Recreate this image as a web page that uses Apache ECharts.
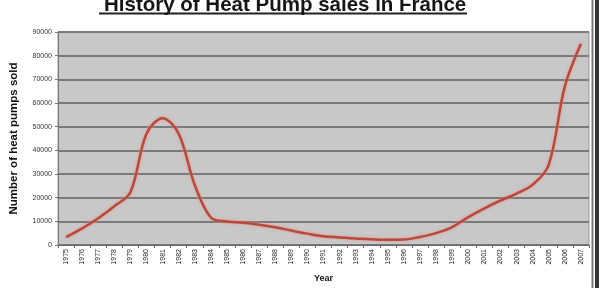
<!DOCTYPE html>
<html>
<head>
<meta charset="utf-8">
<script src="https://cdn.jsdelivr.net/npm/echarts@6/dist/echarts.min.js"></script>
<style>
html,body{margin:0;padding:0;background:#fff;}
#chart{width:603px;height:288px;}
</style>
</head>
<body>
<div id="chart"></div>
<script>
const titleText = "History of Heat Pump sales in France";
const yAxisTitle = "Number of heat pumps sold";
const xAxisTitle = "Year";
const years = ["1975","1976","1977","1978","1979","1980","1981","1982","1983","1984","1985","1986","1987","1988","1989","1990","1991","1992","1993","1994","1995","1996","1997","1998","1999","2000","2001","2002","2003","2004","2005","2006","2007"];
const sales = [3300,7000,11300,16400,22300,47000,53600,47000,25300,11600,9900,9400,8600,7500,6100,4800,3700,3200,2700,2400,2200,2300,3400,5000,7600,11800,15500,18800,21700,25500,34000,67000,85000];
const yTicks = [0,10000,20000,30000,40000,50000,60000,70000,80000,90000];

const chart = echarts.init(document.getElementById('chart'), null, {renderer:'canvas'});
chart.setOption({
  backgroundColor:'#ffffff',
  animation:false,
  title:{
    text:titleText, left:99, top:-10,
    textStyle:{fontFamily:'Liberation Sans, Arial', fontWeight:'bold', fontSize:20.5, color:'#151515'}
  },
  graphic:[
    {type:'line', shape:{x1:99,y1:13.5,x2:467,y2:13.5}, style:{stroke:'#222',lineWidth:2}},
    {type:'line', shape:{x1:592.5,y1:0,x2:592.5,y2:288}, style:{stroke:'#777',lineWidth:2}},
    {type:'line', shape:{x1:597,y1:0,x2:597,y2:288}, style:{stroke:'#333',lineWidth:4}}
  ],
  grid:{left:56,right:14,top:32,bottom:36,show:true,backgroundColor:'#c8c8c8',borderColor:'#9a9a9a',borderWidth:1},
  xAxis:{
    type:'category', data:years, boundaryGap:true,
    name:xAxisTitle, nameLocation:'middle', nameGap:29,
    nameTextStyle:{fontFamily:'Liberation Sans, Arial', fontWeight:'bold', fontSize:9, color:'#111'},
    axisLine:{lineStyle:{color:'#666',width:1}},
    axisTick:{show:true, length:3, lineStyle:{color:'#666'}},
    axisLabel:{rotate:90, fontSize:7, color:'#222', fontFamily:'Liberation Sans, Arial', margin:4, interval:0}
  },
  yAxis:{
    type:'value', min:0, max:90000, interval:10000,
    name:yAxisTitle, nameLocation:'middle', nameGap:38,
    nameTextStyle:{fontFamily:'Liberation Sans, Arial', fontWeight:'bold', fontSize:11.5, color:'#111'},
    axisLine:{show:true, lineStyle:{color:'#777',width:1}},
    axisTick:{show:true, length:3, lineStyle:{color:'#777'}},
    axisLabel:{fontSize:7, color:'#333', fontFamily:'Liberation Sans, Arial', margin:6,
      formatter:function(v){return yTicks.indexOf(v)>=0 ? String(v) : '';}},
    splitLine:{show:true, lineStyle:{color:'#7a7a7a', width:2}}
  },
  series:[{
    type:'line', data:sales, smooth:0.35, symbol:'none',
    lineStyle:{color:'#b64a3c', width:2.5, shadowColor:'rgba(240,140,130,0.9)', shadowBlur:3}
  }]
});
</script>
</body>
</html>
